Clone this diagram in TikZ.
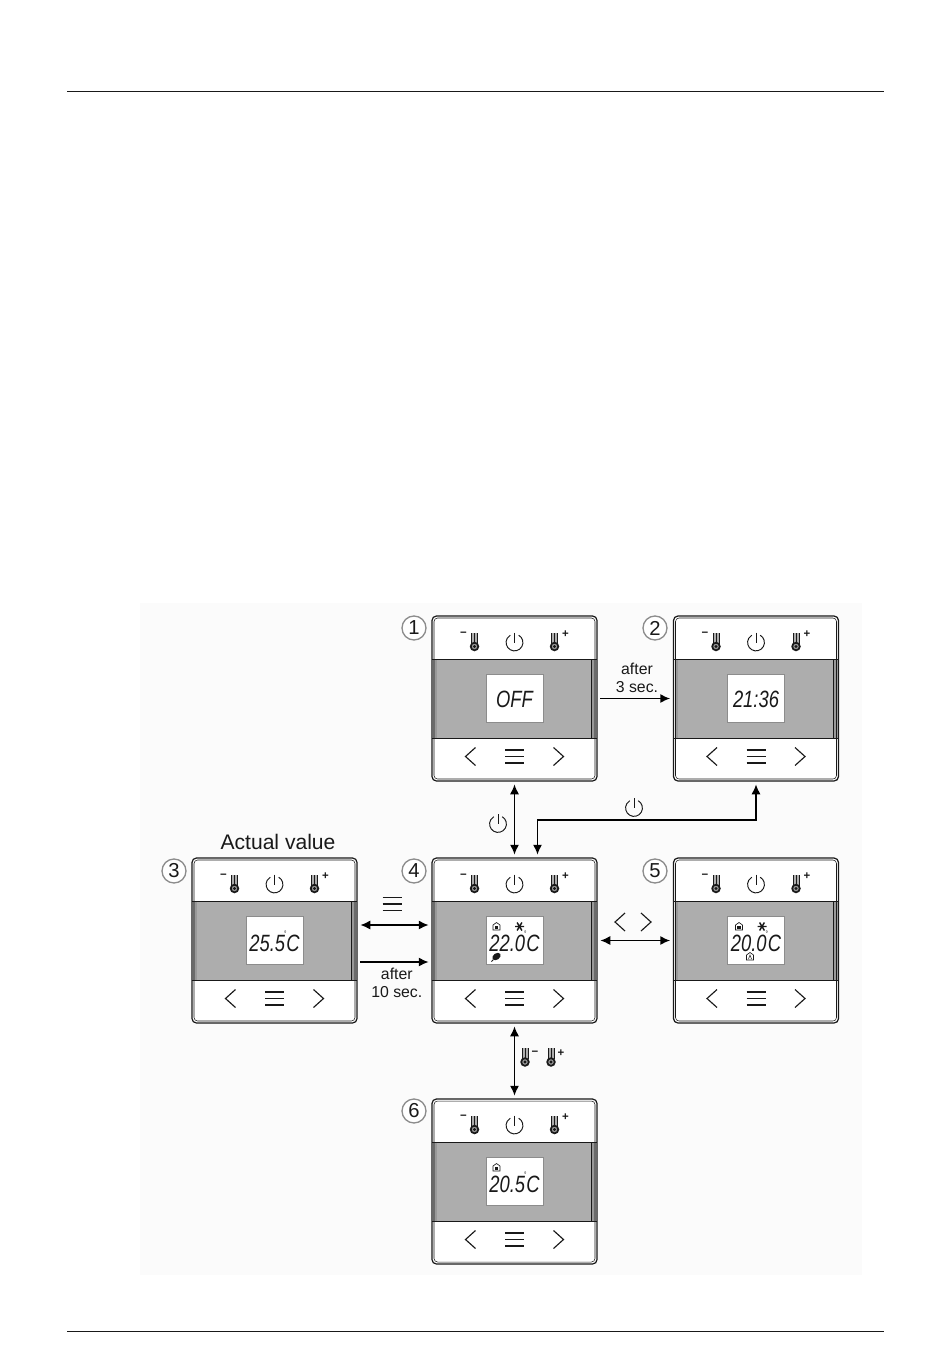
\documentclass[tikz,border=0pt]{standalone}
\usepackage{fontspec}
\setmainfont{Liberation Sans}
\usepackage{tikz}
\usetikzlibrary{arrows.meta}
\usetikzlibrary{positioning}
\definecolor{mgrey}{rgb}{0.68, 0.68, 0.68}
\definecolor{mstrip}{rgb}{0.6, 0.6, 0.6}
\definecolor{mback}{rgb}{0.985, 0.985, 0.985}
\definecolor{mring}{rgb}{0.55, 0.55, 0.55}
\definecolor{mink}{rgb}{0.1, 0.1, 0.1}
\newcommand{\lcddeg}{\kern0.8pt\llap{\raisebox{1.2ex}{\fontsize{4.5}{5}\selectfont\textdegree}}}
\tikzset{
    panelbox/.style={draw=mink, line width=0.7pt, rounded corners=2.5pt, minimum size=3.3cm, inner sep=0pt, fill=white},
    lcdbox/.style={draw=mring, line width=0.3pt, fill=white, minimum width=1.14cm, minimum height=0.96cm, inner sep=0pt},
    lcdtext/.style={font=\fontsize{13.4}{14}\selectfont\itshape, xscale=0.78, inner sep=0pt, text=mink},
    tag/.style={circle, draw=mring, line width=0.75pt, fill=white, minimum size=0.48cm, inner sep=0pt, font=\fontsize{11.5}{12}\selectfont, text=mink},
    sign/.style={font=\fontsize{6.5}{7}\selectfont\bfseries, inner sep=0pt, text=mink},
    note/.style={font=\fontsize{9}{10.2}\selectfont, align=center, inner sep=0pt, text=mink},
    link/.style={{Latex[length=5.6pt,width=5.2pt]}-{Latex[length=5.6pt,width=5.2pt]}, draw=black, line width=0.85pt, shorten >=1.6pt, shorten <=1.6pt},
    oneway/.style={link, -{Latex[length=5.6pt,width=5.2pt]}},
    icon/.style={draw=mink, line width=0.55pt},
    pics/thermo/.style={code={
        \fill [mgrey] (-2.5, -14) rectangle (2.5, 0);
        \draw [icon] (-3, -3) -- (-3, -14) (3, -3) -- (3, -14) (0, -2) -- (0, -14);
        \draw [draw=mink, line width=1pt, fill=mstrip] (0, 0) circle (3.8);
        \fill [mink] (0, 0) circle (1.6);
    }},
    pics/powerkey/.style={code={
        \draw [icon] (4.2, -7.3) arc [start angle=-60, end angle=240, radius=8.4];
        \draw [icon] (0, -10) -- (0, 0);
    }},
    pics/menukey/.style={code={
        \draw [icon, line width=0.65pt] (-9.5, -6.5) -- (9.5, -6.5) (-9.5, 0) -- (9.5, 0) (-9.5, 6.5) -- (9.5, 6.5);
    }},
    pics/leftkey/.style={code={
        \draw [icon, line width=0.65pt] (5, -9) -- (-5, 0) -- (5, 9);
    }},
    pics/rightkey/.style={code={
        \draw [icon, line width=0.65pt] (-5, -9) -- (5, 0) -- (-5, 9);
    }},
    pics/homemark/.style={code={
        \draw [icon, line width=0.35pt] (-3.5, 3.5) -- (-3.5, -1.5) -- (0, -4) -- (3.5, -1.5) -- (3.5, 3.5) -- cycle;
        \fill [mink] (-1.6, -0.8) rectangle (1.6, 2);
    }},
    pics/automark/.style={code={
        \draw [icon, line width=0.35pt] (-3.5, 3.5) -- (-3.5, -1.5) -- (0, -4) -- (3.5, -1.5) -- (3.5, 3.5) -- cycle;
        \draw [icon, line width=0.3pt] (-1.5, 2.5) -- (0, -1.5) -- (1.5, 2.5);
    }},
    pics/snowmark/.style={code={
        \draw [icon, line width=0.8pt] (-4.5, 0) -- (4.5, 0) (-2.4, -4) -- (2.4, 4) (-2.4, 4) -- (2.4, -4);
    }},
    pics/leafmark/.style={code={
        \fill [mink, rotate=35] (0, 0) ellipse (4.6 and 3.2);
        \draw [icon] (-3, 3) -- (-5, 5);
    }}
}
% name, x, y, lcd text, lcd marks
\newcommand{\panel}[5]{
    \node [panelbox] (#1) at (#2, #3) {};
    \begin{scope}[shift={(#2, #3)}]
        \fill [mgrey] (-81.5, -39.5) rectangle (81.5, 39.5);
        \fill [mstrip] (-81.5, -39.5) rectangle (-78, 39.5);
        \fill [mstrip] (77, -39.5) rectangle (81.5, 39.5);
        \draw [draw=mink, line width=0.35pt] (77, -39.5) -- (77, 39.5);
        \draw [draw=mink, line width=0.5pt] (-82.5, -39.5) -- (82.5, -39.5);
        \draw [draw=mink, line width=0.3pt] (-82.5, 39.5) -- (82.5, 39.5);
        \draw [draw=mink, line width=0.3pt, rounded corners=2pt] (-80.5, -80.5) rectangle (80.5, 80.5);
        \pic at (-40, -52) {thermo};
        \pic at (40, -52) {thermo};
        \pic at (0, -56) {powerkey};
        \node [sign] at (-51, -64) {\textminus};
        \node [sign] at (51, -64) {+};
        \pic at (-44, 58) {leftkey};
        \pic at (0, 58) {menukey};
        \pic at (44, 58) {rightkey};
        \node [lcdbox] (#1lcd) at (0, 0) {};
        \node [lcdtext] (#1text) at (0, 0.5) {#4};
        #5
    \end{scope}
}

\begin{document}
\begin{tikzpicture}[x=0.02cm, y=-0.02cm]
    \useasboundingbox (0, 0) rectangle (950, 1369);
    \draw [line width=0.45pt, mink] (67, 91) -- (884, 91);
    \draw [line width=0.45pt, mink] (67, 1331) -- (884, 1331);
    \fill [mback] (140, 603) rectangle (862, 1275);

    \panel{off}{514.5}{698.5}{OFF}{}
    \panel{clock}{756}{698.5}{21:36}{}
    \panel{actual}{274.5}{940.5}{25.5\lcddeg C}{}
    \panel{setp}{514.5}{940.5}{22.0\lcddeg C}{\pic at (-18, -14) {homemark}; \pic at (5, -14) {snowmark}; \pic at (-18, 16) {leafmark};}
    \panel{mode}{756}{940.5}{20.0\lcddeg C}{\pic at (-17, -14) {homemark}; \pic at (6, -14) {snowmark}; \pic at (-6, 16) {automark};}
    \panel{adjust}{514.5}{1181.5}{20.5\lcddeg C}{\pic at (-18, -14) {homemark};}

    \node [tag] (tagone) at (414, 628) {1};
    \node [tag] (tagtwo) at (655, 628) {2};
    \node [tag] (tagthree) at (174, 871) {3};
    \node [tag] (tagfour) at (414, 871) {4};
    \node [tag] (tagfive) at (655, 871) {5};
    \node [tag] (tagsix) at (414, 1111) {6};

    \node [font=\fontsize{12}{14}\selectfont, inner sep=0pt, text=mink] (actualtitle) at (278, 842) {Actual value};

    \coordinate (bend) at (756, 820);
    \draw [oneway] (off.east) -- (clock.west) node [note, midway, above=3pt, xshift=1pt] (aftera) {after\\3 sec.};
    \draw [link] (off.south) -- (setp.north);
    \draw [link] ([xshift=0.46cm]setp.north) |- (bend) -- (clock.south);
    \draw [link] ([yshift=0.31cm]actual.east) -- ([yshift=0.31cm]setp.west);
    \draw [oneway] ([yshift=-0.43cm]actual.east) -- ([yshift=-0.43cm]setp.west) node [note, midway, below=3pt, xshift=1.3pt] (afterb) {after\\10 sec.};
    \draw [link] (setp.east) -- (mode.west);
    \draw [link] (setp.south) -- (adjust.north);

    \pic at (498, 824) {powerkey};
    \pic at (634, 808) {powerkey};
    \pic at (392, 904) {menukey};
    \pic at (620, 922) {leftkey};
    \pic at (646, 922) {rightkey};
    \pic at (525, 1062) {thermo};
    \pic at (551, 1062) {thermo};
    \node [sign] at (535, 1053) {\textminus};
    \node [sign] at (561, 1053) {+};
\end{tikzpicture}
\end{document}
